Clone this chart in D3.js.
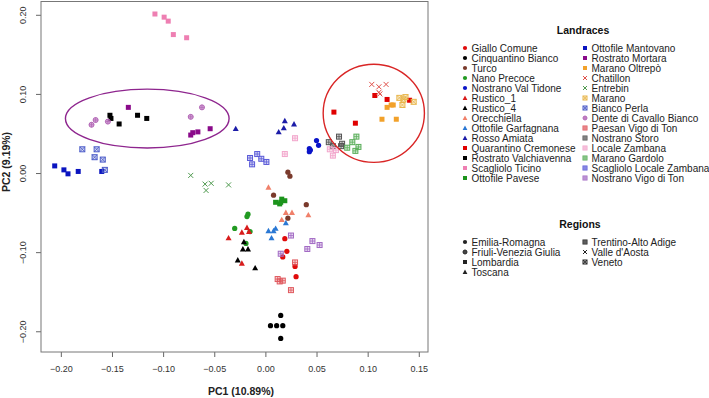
<!DOCTYPE html>
<html>
<head>
<meta charset="utf-8">
<script src="https://cdn.jsdelivr.net/npm/d3@7"></script>
<style>
  body { margin: 0; background: #fff; }
  svg { display: block; font-family: "Liberation Sans", Arial, sans-serif; }
  .tick text { fill: #333; font-size: 9px; }
  .axTitle { font-weight: bold; font-size: 10.5px; fill: #222; }
  .legTitle { font-weight: bold; font-size: 10.5px; fill: #111; }
  .legText { font-size: 10px; fill: #222; }
</style>
</head>
<body>
<div id="chart"></div>
<script>
// landraces, in legend order
var landraces = ["Giallo Comune", "Cinquantino Bianco", "Turco", "Nano Precoce", "Nostrano Val Tidone",
  "Rustico_1", "Rustico_4", "Orecchiella", "Ottofile Garfagnana", "Rosso Amiata",
  "Quarantino Cremonese", "Rostrato Valchiavenna", "Scagliolo Ticino", "Ottofile Pavese",
  "Ottofile Mantovano", "Rostrato Mortara", "Marano Oltrepò", "Chatillon", "Entrebin",
  "Marano", "Bianco Perla", "Dente di Cavallo Bianco", "Paesan Vigo di Ton", "Nostrano Storo",
  "Locale Zambana", "Marano Gardolo", "Scagliolo Locale Zambana", "Nostrano Vigo di Ton"];

var landraceRegion = ["Emilia-Romagna", "Emilia-Romagna", "Emilia-Romagna", "Emilia-Romagna", "Emilia-Romagna",
  "Toscana", "Toscana", "Toscana", "Toscana", "Toscana",
  "Lombardia", "Lombardia", "Lombardia", "Lombardia", "Lombardia", "Lombardia", "Lombardia",
  "Valle d'Aosta", "Valle d'Aosta", "Veneto", "Veneto", "Friuli-Venezia Giulia",
  "Trentino-Alto Adige", "Trentino-Alto Adige", "Trentino-Alto Adige", "Trentino-Alto Adige",
  "Trentino-Alto Adige", "Trentino-Alto Adige"];

var regions = ["Emilia-Romagna", "Friuli-Venezia Giulia", "Lombardia", "Toscana",
  "Trentino-Alto Adige", "Valle d'Aosta", "Veneto"];

// PC1 / PC2 scores, one list per landrace (same order)
var scores = [
  [[0.019,-0.083],[0.021,-0.099],[0.017,-0.106],[0.029,-0.118],[0.030,-0.131]],
  [[0.015,-0.180],[0.005,-0.193],[0.011,-0.193],[0.017,-0.193],[0.015,-0.209]],
  [[0.022,0.001],[0.024,-0.004],[0.008,-0.028],[0.040,-0.040],[0.022,-0.057]],
  [[-0.018,-0.055],[-0.017,-0.052],[-0.030,-0.070],[-0.015,-0.074],[-0.019,-0.089]],
  [[0.050,0.041],[0.052,0.035],[0.043,0.031],[0.044,0.029],[0.043,0.027]],
  [[-0.036,-0.082],[-0.023,-0.075],[-0.018,-0.069],[-0.016,-0.074],[-0.023,-0.114]],
  [[-0.021,-0.087],[-0.022,-0.096],[-0.017,-0.096],[-0.027,-0.110],[-0.010,-0.120]],
  [[0.003,-0.018],[0.020,-0.050],[0.026,-0.050],[0.016,-0.059],[0.042,-0.053]],
  [[0.003,-0.073],[0.008,-0.073],[0.010,-0.070],[0.006,-0.082],[0.020,-0.063]],
  [[-0.029,0.056],[0.019,0.066],[0.018,0.057],[0.013,0.052],[0.028,0.062]],
  [[0.107,0.098],[0.119,0.093],[0.141,0.092],[0.067,0.077],[0.088,0.063]],
  [[-0.152,0.073],[-0.151,0.069],[-0.143,0.062],[-0.125,0.073],[-0.116,0.069]],
  [[-0.108,0.201],[-0.099,0.197],[-0.095,0.192],[-0.090,0.175],[-0.077,0.171]],
  [[0.010,-0.037],[0.016,-0.033],[0.019,-0.035],[0.014,-0.039],[0.015,-0.037]],
  [[-0.206,0.009],[-0.197,0.004],[-0.193,-0.001],[-0.183,0.002],[-0.160,0.002]],
  [[-0.134,0.083],[-0.073,0.048],[-0.071,0.051],[-0.066,0.052],[-0.054,0.056]],
  [[0.119,0.083],[0.123,0.086],[0.125,0.086],[0.114,0.068],[0.128,0.068]],
  [[0.104,0.112],[0.111,0.109],[0.118,0.112],[0.111,0.102],[0.112,0.100]],
  [[-0.073,-0.003],[-0.059,-0.014],[-0.058,-0.022],[-0.053,-0.013],[-0.036,-0.015]],
  [[0.131,0.095],[0.135,0.093],[0.137,0.096],[0.145,0.090],[0.134,0.086]],
  [[-0.179,0.030],[-0.165,0.030],[-0.167,0.020],[-0.159,0.017],[-0.157,0.004]],
  [[-0.166,0.067],[-0.170,0.061],[-0.154,0.065],[-0.073,0.071],[-0.062,0.083]],
  [[0.012,-0.134],[0.014,-0.137],[0.017,-0.136],[0.029,-0.113],[0.025,-0.148]],
  [[0.062,0.039],[0.072,0.046],[0.075,0.037],[0.074,0.034],[0.066,0.034]],
  [[0.063,0.030],[0.066,0.022],[0.069,0.029],[0.029,0.044],[0.019,0.024]],
  [[0.089,0.046],[0.085,0.039],[0.091,0.033],[0.088,0.028],[0.080,0.032]],
  [[-0.015,0.019],[-0.008,0.024],[-0.004,0.018],[0.001,0.014],[-0.013,0.011]],
  [[0.025,-0.079],[0.015,-0.102],[0.041,-0.096],[0.046,-0.086],[0.053,-0.091]]
];

// hand drawn groupings: centre x, centre y, half width, half height (data units)
var ellipseCx = [-0.1155, 0.106];
var ellipseCy = [0.0688, 0.0755];
var ellipseRx = [0.080, 0.0495];
var ellipseRy = [0.0372, 0.062];

var xTicks = [-0.20, -0.15, -0.10, -0.05, 0.00, 0.05, 0.10, 0.15];
var yTicks = [-0.20, -0.10, 0.00, 0.10, 0.20];

// styling
var colors = ["#e00b0b", "#000000", "#7a3a2c", "#229a22", "#0a14c8",
  "#d81c1c", "#000000", "#f0806a", "#2a78d4", "#1c1ca8",
  "#e00000", "#000000", "#ee7fb2", "#1c941c", "#0a14c0", "#8a0a8a", "#f2a12a",
  "#e0504a", "#4f9a4f", "#e8b64c", "#4a5ac8", "#b366b6",
  "#e0595e", "#555555", "#f2a6cc", "#5aae5a", "#5a5ad8", "#a26ac4"];
var shapeOf = {
  "Emilia-Romagna": "circle", "Friuli-Venezia Giulia": "circlePlus", "Lombardia": "square",
  "Toscana": "triangle", "Trentino-Alto Adige": "squarePlus", "Valle d'Aosta": "cross", "Veneto": "squareX"
};

var W = 709, H = 398;
var svg = d3.select("#chart").append("svg").attr("width", W).attr("height", H);

var x = d3.scaleLinear().domain([-0.2194, 0.159]).range([41, 428]);
var y = d3.scaleLinear().domain([-0.2262, 0.2168]).range([352, 1.5]);

// draw one marker centred at (0,0) inside group g
function marker(g, shape, col, s) {
  var h = s / 2;
  if (shape === "circle") {
    g.append("circle").attr("r", h * 1.05).attr("fill", col);
  } else if (shape === "square") {
    g.append("rect").attr("x", -h).attr("y", -h).attr("width", s).attr("height", s).attr("fill", col);
  } else if (shape === "triangle") {
    var t = h * 1.2;
    g.append("path").attr("d", "M0," + (-t) + "L" + t + "," + (t * 0.8) + "L" + (-t) + "," + (t * 0.8) + "Z").attr("fill", col);
  } else if (shape === "cross") {
    g.append("path").attr("d", "M" + (-h) + "," + (-h) + "L" + h + "," + h + "M" + (-h) + "," + h + "L" + h + "," + (-h))
      .attr("stroke", col).attr("stroke-width", 1).attr("fill", "none");
  } else if (shape === "circlePlus") {
    g.append("circle").attr("r", h).attr("fill", col).attr("fill-opacity", 0.55).attr("stroke", col).attr("stroke-width", 1);
    g.append("path").attr("d", "M" + (-h) + ",0L" + h + ",0M0," + (-h) + "L0," + h).attr("stroke", col).attr("stroke-width", 0.8);
  } else if (shape === "squarePlus" || shape === "squareX") {
    g.append("rect").attr("x", -h).attr("y", -h).attr("width", s).attr("height", s)
      .attr("fill", col).attr("fill-opacity", 0.25).attr("stroke", col).attr("stroke-width", 1);
    var d = shape === "squarePlus"
      ? "M" + (-h) + ",0L" + h + ",0M0," + (-h) + "L0," + h
      : "M" + (-h) + "," + (-h) + "L" + h + "," + h + "M" + (-h) + "," + h + "L" + h + "," + (-h);
    g.append("path").attr("d", d).attr("stroke", col).attr("stroke-width", 0.8).attr("fill", "none");
  }
}

// axes
var xAxis = d3.axisBottom(x).tickValues(xTicks).tickFormat(d3.format(".2f")).tickSize(5).tickPadding(9);
var gx = svg.append("g").attr("transform", "translate(0,352)").call(xAxis);
gx.select(".domain").remove();
gx.selectAll(".tick line").attr("stroke", "#666");

var yAxis = d3.axisLeft(y).tickValues(yTicks).tickFormat(d3.format(".2f")).tickSize(5);
var gy = svg.append("g").attr("transform", "translate(41,0)").call(yAxis);
gy.select(".domain").remove();
gy.selectAll(".tick line").attr("stroke", "#666");
// R style: y labels turned to read upwards
gy.selectAll(".tick text")
  .attr("x", 0).attr("y", 0).attr("dy", "0.32em")
  .attr("transform", "translate(-18,0) rotate(-90)")
  .style("text-anchor", "middle");

// plot frame
svg.append("rect").attr("x", 41).attr("y", 1.5).attr("width", 387).attr("height", 350.5)
  .attr("fill", "none").attr("stroke", "#777").attr("stroke-width", 1);

svg.append("text").attr("class", "axTitle").attr("x", 241).attr("y", 395).attr("text-anchor", "middle").text("PC1 (10.89%)");
svg.append("text").attr("class", "axTitle").attr("transform", "translate(10,162) rotate(-90)")
  .attr("text-anchor", "middle").text("PC2 (9.19%)");

// points
var pts = svg.append("g");
scores.forEach(function(list, i) {
  list.forEach(function(p) {
    var g = pts.append("g").attr("transform", "translate(" + x(p[0]) + "," + y(p[1]) + ")");
    marker(g, shapeOf[landraceRegion[i]], colors[i], 5);
  });
});

// ellipses
var ellCols = ["#8e258e", "#d92525"];
ellipseCx.forEach(function(cx, i) {
  svg.append("ellipse")
    .attr("cx", x(cx)).attr("cy", y(ellipseCy[i]))
    .attr("rx", x(cx + ellipseRx[i]) - x(cx))
    .attr("ry", y(ellipseCy[i] - ellipseRy[i]) - y(ellipseCy[i]))
    .attr("fill", "none").attr("stroke", ellCols[i]).attr("stroke-width", 1.4);
});

// legend: landraces
var leg = svg.append("g");
leg.append("text").attr("class", "legTitle").attr("x", 583).attr("y", 34).attr("text-anchor", "middle").text("Landraces");
landraces.forEach(function(name, i) {
  var col = i < 14 ? 0 : 1, row = i < 14 ? i : i - 14;
  var mx = col === 0 ? 465 : 585, cy = 48 + row * 10;
  var g = leg.append("g").attr("transform", "translate(" + mx + "," + cy + ")");
  marker(g, shapeOf[landraceRegion[i]], colors[i], 4);
  leg.append("text").attr("class", "legText").attr("x", mx + 6.5).attr("y", cy).attr("dy", "0.35em").text(name);
});

// legend: regions
leg.append("text").attr("class", "legTitle").attr("x", 580).attr("y", 228).attr("text-anchor", "middle").text("Regions");
regions.forEach(function(name, i) {
  var col = i < 4 ? 0 : 1, row = i < 4 ? i : i - 4;
  var mx = col === 0 ? 465 : 585, cy = 242 + row * 10;
  var g = leg.append("g").attr("transform", "translate(" + mx + "," + cy + ")");
  marker(g, shapeOf[name], "#222", 4);
  leg.append("text").attr("class", "legText").attr("x", mx + 6.5).attr("y", cy).attr("dy", "0.35em").text(name);
});
</script>
</body>
</html>
